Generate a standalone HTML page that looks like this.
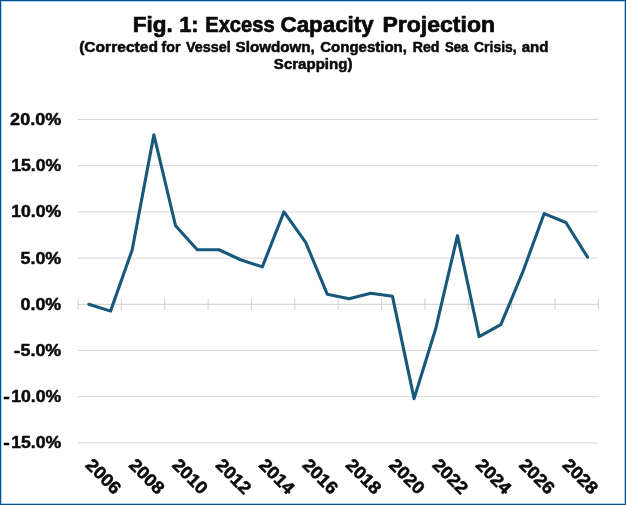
<!DOCTYPE html>
<html lang="en"><head><meta charset="utf-8"><title>Fig. 1: Excess Capacity Projection</title>
<style>
html,body{margin:0;padding:0;background:#fff;}
body{width:626px;height:505px;overflow:hidden;position:relative;font-family:"Liberation Sans",sans-serif;}
svg{position:absolute;left:0;top:0;display:block;will-change:transform;}
text{font-family:"Liberation Sans",sans-serif;font-weight:bold;fill:#0a0a0a;stroke:#0a0a0a;stroke-linejoin:round;}
.t1{font-size:22.4px;stroke-width:0.7px;}
.t2{font-size:15.5px;stroke-width:0.55px;}
.lb{font-size:17.4px;stroke-width:0.5px;}
.xl{font-size:17.7px;}
.grid line{stroke:#d6d6d6;stroke-width:1;}
.axis line{stroke:#cfcfcf;stroke-width:1;}
</style></head><body>
<svg width="626" height="505" viewBox="0 0 626 505">
<rect x="0" y="0" width="626" height="505" fill="#ffffff"/>
<rect x="1.5" y="1.5" width="623" height="502" fill="none" stroke="#a6d3fa" stroke-width="1"/>
<rect x="0.5" y="0.5" width="625" height="504" fill="none" stroke="#0e508e" stroke-width="1"/>
<g>
<text class="t1" transform="translate(132.80,31.7) scale(1.0041,1)">Fig.</text>
<text class="t1" transform="translate(179.14,31.7) scale(0.9764,1)">1:</text>
<text class="t1" transform="translate(205.24,31.7) scale(0.8991,1)">Excess</text>
<text class="t1" transform="translate(280.56,31.7) scale(0.9972,1)">Capacity</text>
<text class="t1" transform="translate(382.47,31.7) scale(1.0279,1)">Projection</text>
</g>
<g>
<text class="t2" transform="translate(79.15,51.9) scale(1.0057,1)">(Corrected</text>
<text class="t2" transform="translate(161.53,51.9) scale(0.9158,1)">for</text>
<text class="t2" transform="translate(186.08,51.9) scale(0.9265,1)">Vessel</text>
<text class="t2" transform="translate(235.57,51.9) scale(0.9802,1)">Slowdown,</text>
<text class="t2" transform="translate(320.27,51.9) scale(0.9684,1)">Congestion,</text>
<text class="t2" transform="translate(412.73,51.9) scale(0.9139,1)">Red</text>
<text class="t2" transform="translate(444.91,51.9) scale(0.8532,1)">Sea</text>
<text class="t2" transform="translate(474.02,51.9) scale(0.8993,1)">Crisis,</text>
<text class="t2" transform="translate(521.68,51.9) scale(0.9676,1)">and</text>
<text class="t2" transform="translate(273.87,69.4) scale(0.9709,1)">Scrapping)</text>
</g>
<g class="grid">
<line x1="78.0" x2="598.4" y1="119.50" y2="119.50"/>
<line x1="78.0" x2="598.4" y1="165.70" y2="165.70"/>
<line x1="78.0" x2="598.4" y1="211.90" y2="211.90"/>
<line x1="78.0" x2="598.4" y1="258.10" y2="258.10"/>
<line x1="78.0" x2="598.4" y1="350.50" y2="350.50"/>
<line x1="78.0" x2="598.4" y1="396.70" y2="396.70"/>
<line x1="78.0" x2="598.4" y1="442.90" y2="442.90"/>
</g>
<g class="axis">
<line x1="78.0" x2="598.4" y1="304.30" y2="304.30"/>
<line x1="78.00" x2="78.00" y1="298.60" y2="309.70"/>
<line x1="121.37" x2="121.37" y1="298.60" y2="309.70"/>
<line x1="164.73" x2="164.73" y1="298.60" y2="309.70"/>
<line x1="208.10" x2="208.10" y1="298.60" y2="309.70"/>
<line x1="251.47" x2="251.47" y1="298.60" y2="309.70"/>
<line x1="294.83" x2="294.83" y1="298.60" y2="309.70"/>
<line x1="338.20" x2="338.20" y1="298.60" y2="309.70"/>
<line x1="381.57" x2="381.57" y1="298.60" y2="309.70"/>
<line x1="424.93" x2="424.93" y1="298.60" y2="309.70"/>
<line x1="468.30" x2="468.30" y1="298.60" y2="309.70"/>
<line x1="511.67" x2="511.67" y1="298.60" y2="309.70"/>
<line x1="555.03" x2="555.03" y1="298.60" y2="309.70"/>
<line x1="598.40" x2="598.40" y1="298.60" y2="309.70"/>
</g>
<g>
<text class="lb" transform="translate(10.11,125.00) scale(1.0375,1)">20.0%</text>
<text class="lb" transform="translate(11.19,171.20) scale(1.0154,1)">15.0%</text>
<text class="lb" transform="translate(11.19,217.40) scale(1.0154,1)">10.0%</text>
<text class="lb" transform="translate(20.51,263.60) scale(1.0282,1)">5.0%</text>
<text class="lb" transform="translate(20.51,309.80) scale(1.0282,1)">0.0%</text>
<text class="lb" transform="translate(13.86,356.00) scale(1.1281,1)">-</text><text class="lb" transform="translate(20.51,356.00) scale(1.0282,1)">5.0%</text>
<text class="lb" transform="translate(3.16,402.20) scale(1.1281,1)">-</text><text class="lb" transform="translate(11.19,402.20) scale(1.0154,1)">10.0%</text>
<text class="lb" transform="translate(3.16,448.40) scale(1.1281,1)">-</text><text class="lb" transform="translate(11.19,448.40) scale(1.0154,1)">15.0%</text>
<text class="lb xl" transform="translate(84.54,466.0) rotate(45) scale(1.055,1)">2006</text>
<text class="lb xl" transform="translate(127.91,466.0) rotate(45) scale(1.055,1)">2008</text>
<text class="lb xl" transform="translate(171.27,466.0) rotate(45) scale(1.055,1)">2010</text>
<text class="lb xl" transform="translate(214.64,466.0) rotate(45) scale(1.055,1)">2012</text>
<text class="lb xl" transform="translate(258.01,466.0) rotate(45) scale(1.055,1)">2014</text>
<text class="lb xl" transform="translate(301.38,466.0) rotate(45) scale(1.055,1)">2016</text>
<text class="lb xl" transform="translate(344.74,466.0) rotate(45) scale(1.055,1)">2018</text>
<text class="lb xl" transform="translate(388.11,466.0) rotate(45) scale(1.055,1)">2020</text>
<text class="lb xl" transform="translate(431.47,466.0) rotate(45) scale(1.055,1)">2022</text>
<text class="lb xl" transform="translate(474.84,466.0) rotate(45) scale(1.055,1)">2024</text>
<text class="lb xl" transform="translate(518.21,466.0) rotate(45) scale(1.055,1)">2026</text>
<text class="lb xl" transform="translate(561.58,466.0) rotate(45) scale(1.055,1)">2028</text>
</g>
<polyline points="88.84,304.30 110.53,311.14 132.21,249.78 153.89,134.75 175.57,225.76 197.26,249.78 218.94,249.78 240.62,259.76 262.31,266.88 283.99,211.90 305.68,242.39 327.36,294.32 349.04,298.76 370.73,293.21 392.41,296.17 414.09,398.64 435.77,328.51 457.46,235.65 479.14,336.64 500.82,324.63 522.51,272.70 544.19,213.56 565.88,222.53 587.56,257.18" fill="none" stroke="#17587b" stroke-width="3.1" stroke-linejoin="round" stroke-linecap="round"/>
</svg>
</body></html>
